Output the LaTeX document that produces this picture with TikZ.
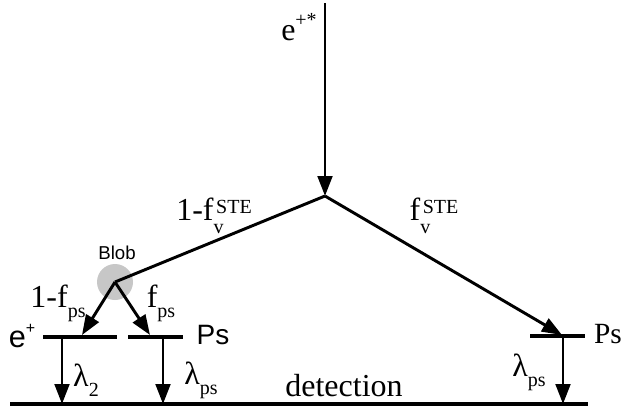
\documentclass[tikz,border=0pt]{standalone}
\usepackage{fontspec}
\setmainfont{Liberation Serif}
\newfontfamily\sansf{Liberation Sans}
\usetikzlibrary{arrows.meta}
\newcommand{\SmallTxt}[1]{{\fontsize{15}{15}\selectfont #1}}
\newcommand{\SubSup}[2]{\rlap{\raisebox{-0.42em}{\SmallTxt{#1}}}\kern0.08em\raisebox{0.22em}{\SmallTxt{#2}}}
\newcommand{\SubOnly}[1]{\raisebox{-0.32em}{\SmallTxt{#1}}}
\begin{document}
\begin{tikzpicture}[x=0.75pt,y=-0.75pt,
  thin line/.style={line width=2.2pt},
  arr/.style={line width=2.2pt,-{Triangle[length=15pt,width=11pt]}},
  bar/.style={line width=2.8pt},
  base/.style={line width=3pt},
  lbl/.style={font=\fontsize{24}{26}\selectfont, inner sep=0pt},
  slbl/.style={font=\sansf\fontsize{21}{23}\selectfont, inner sep=0pt},
  blobst/.style={circle, fill=black!22, minimum size=27pt, inner sep=0pt}]
\useasboundingbox (0,0) rectangle (627,412);

% key points
\coordinate (src) at (325,3);
\coordinate (vx) at (325,196);
\node[blobst] (blob) at (115,282) {};
\coordinate (tipL) at (82,335);
\coordinate (tipM) at (150,335);
\coordinate (tipR) at (562,335);

% bars (levels)
\coordinate (bLa) at (43,337);  \coordinate (bLb) at (117,337);
\coordinate (bMa) at (128,337); \coordinate (bMb) at (183,337);
\coordinate (bRa) at (530,336); \coordinate (bRb) at (585,336);
\coordinate (dLa) at (62,337);  \coordinate (dLb) at (62,404);
\coordinate (dMa) at (163,337); \coordinate (dMb) at (163,404);
\coordinate (dRa) at (563,336); \coordinate (dRb) at (563,404);
\coordinate (gA) at (10,404);   \coordinate (gB) at (588,404);

\draw[bar] (bLa) -- (bLb);
\draw[bar] (bMa) -- (bMb);
\draw[bar] (bRa) -- (bRb);
\draw[base] (gA) -- (gB);

% connectors
\draw[arr] (src) -- (vx);
\draw[thin line] (vx) -- (blob.center);
\draw[arr] (vx) -- (tipR);
\draw[arr] (blob.center) -- (tipL);
\draw[arr] (blob.center) -- (tipM);
\draw[arr] (dLa) -- (dLb);
\draw[arr] (dMa) -- (dMb);
\draw[arr] (dRa) -- (dRb);

% labels
\node[lbl] (lsrc) at (299,27) {e\raisebox{0.42em}{\SmallTxt{+*}}};
\node[lbl] (lleft) at (214,216) {1-f\SubSup{v}{STE}};
\node[lbl] (lright) at (434,216) {f\SubSup{v}{STE}};
\node[font=\sansf\fontsize{14}{16}\selectfont, inner sep=0pt] (lblob) at (117,253) {Blob};
\node[lbl] (l1fps) at (58,303) {1-f\SubOnly{ps}};
\node[lbl] (lfps) at (161,303) {f\SubOnly{ps}};
\node[slbl, font=\sansf\fontsize{23}{25}\selectfont] (lep) at (22,336) {e\raisebox{0.45em}{\sansf\fontsize{12}{12}\selectfont +}};
\node[slbl] (lps1) at (213,335) {Ps};
\node[lbl, font=\fontsize{22}{24}\selectfont] (lps2) at (608,334) {Ps};
\node[lbl] (ll2) at (86,380) {λ\SubOnly{2}};
\node[lbl] (llps) at (201,380) {λ\SubOnly{ps}};
\node[lbl] (llps2) at (529,372) {λ\SubOnly{ps}};
\node[lbl] (ldet) at (344,386) {detection};
\end{tikzpicture}
\end{document}
